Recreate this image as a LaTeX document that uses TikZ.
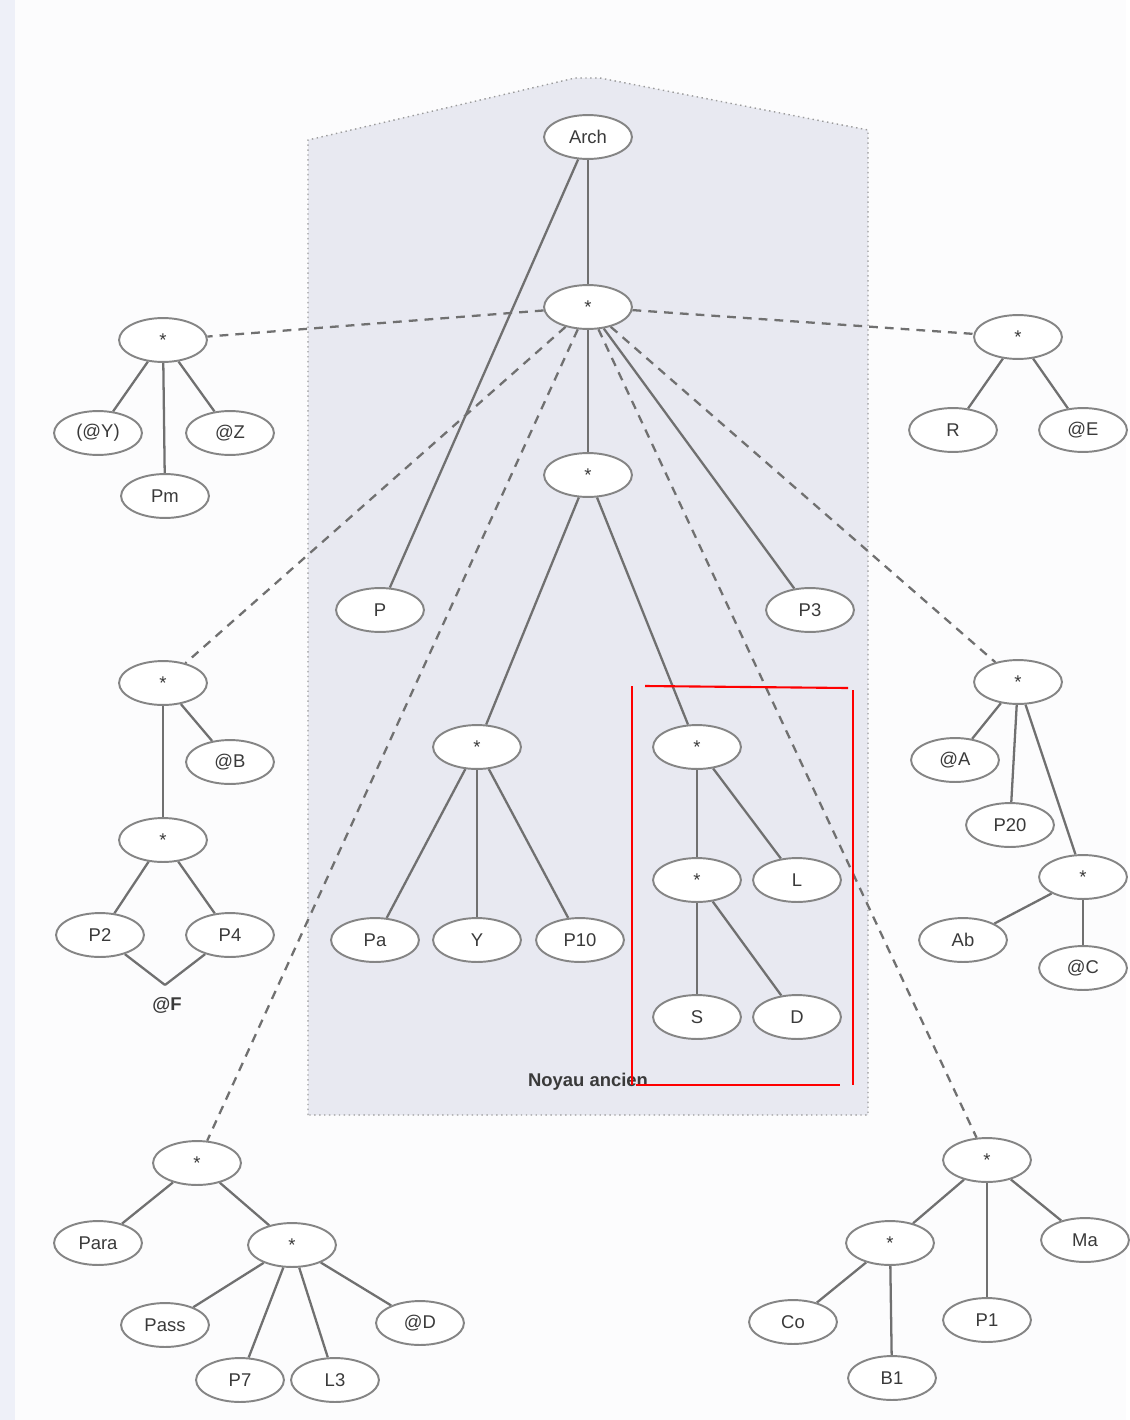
\documentclass[tikz,border=0pt]{standalone}
\usepackage{fontspec}
\setmainfont{Liberation Sans}
\usetikzlibrary{shapes.geometric}
\definecolor{edgec}{HTML}{707070}
\definecolor{txtc}{HTML}{3A3A3A}
\definecolor{corefill}{HTML}{E8E9F1}
\definecolor{pagec}{HTML}{FCFCFD}
\definecolor{stripc}{HTML}{EEF0F8}
\pgfdeclarelayer{back}
\pgfdeclarelayer{edgelayer}
\pgfsetlayers{back,edgelayer,main}
\tikzset{
  nd/.style={ellipse, draw=edgec!85, line width=1.1pt, fill=white, minimum width=50pt, minimum height=25pt, inner sep=0pt, text=txtc, font=\fontsize{10.5}{12}\selectfont},
  plain/.style={text=txtc, inner sep=1pt, font=\bfseries\fontsize{10.5}{12}\selectfont},
  link/.style={draw=edgec, line width=1.3pt},
  dlink/.style={draw=edgec, line width=1.3pt, dash pattern=on 5pt off 4pt},
  redline/.style={draw=red, line width=1.2pt},
}
\begin{document}
\begin{tikzpicture}[x=0.02cm,y=-0.02cm]
\begin{pgfonlayer}{back}
\useasboundingbox (0,0) rectangle (1126,1420);
\fill[pagec] (0,0) rectangle (1126,1420);
\fill[stripc] (0,0) rectangle (15,1420);
\draw[fill=corefill, draw=edgec!70, line width=0.8pt, dotted]
  (308,1115) -- (308,140) -- (575,78) -- (600,78) -- (868,130) -- (868,1115) -- cycle;
\end{pgfonlayer}
\node[plain] (noyau) at (588,1082) {Noyau ancien};

% nodes
\node[nd] (arch) at (588,137) {Arch};
\node[nd] (r) at (588,307) {*};
\node[nd] (m) at (588,475) {*};
\node[nd] (P) at (380,610) {P};
\node[nd] (P3) at (810,610) {P3};
\node[nd] (c1) at (477,747) {*};
\node[nd] (Pa) at (375,940) {Pa};
\node[nd] (Y) at (477,940) {Y};
\node[nd] (P10) at (580,940) {P10};
\node[nd] (c2) at (697,747) {*};
\node[nd] (c3) at (697,880) {*};
\node[nd] (L) at (797,880) {L};
\node[nd] (S) at (697,1017) {S};
\node[nd] (D) at (797,1017) {D};

\node[nd] (g1) at (163,340) {*};
\node[nd] (Y1) at (98,433) {(@Y)};
\node[nd] (Z) at (230,433) {@Z};
\node[nd] (Pm) at (165,496) {Pm};

\node[nd] (g2) at (1018,337) {*};
\node[nd] (R) at (953,430) {R};
\node[nd] (E) at (1083,430) {@E};

\node[nd] (g3) at (163,683) {*};
\node[nd] (B) at (230,762) {@B};
\node[nd] (g3b) at (163,840) {*};
\node[nd] (P2) at (100,935) {P2};
\node[nd] (P4) at (230,935) {P4};
\coordinate (Fpt) at (165,985);
\node[plain] (F) at (167,1005) {@F};

\node[nd] (g4) at (1018,682) {*};
\node[nd] (A) at (955,760) {@A};
\node[nd] (P20) at (1010,825) {P20};
\node[nd] (g4b) at (1083,877) {*};
\node[nd] (Ab) at (963,940) {Ab};
\node[nd] (C) at (1083,968) {@C};

\node[nd] (g5) at (197,1163) {*};
\node[nd] (Para) at (98,1243) {Para};
\node[nd] (g5b) at (292,1245) {*};
\node[nd] (Pass) at (165,1325) {Pass};
\node[nd] (P7) at (240,1380) {P7};
\node[nd] (L3) at (335,1380) {L3};
\node[nd] (Dd) at (420,1323) {@D};

\node[nd] (g6) at (987,1160) {*};
\node[nd] (g6b) at (890,1243) {*};
\node[nd] (Ma) at (1085,1240) {Ma};
\node[nd] (Co) at (793,1322) {Co};
\node[nd] (P1) at (987,1320) {P1};
\node[nd] (B1) at (892,1378) {B1};

\begin{pgfonlayer}{edgelayer}
% core tree
\draw[link] (arch) -- (r);
\draw[link] (arch) -- (P);
\draw[link] (r) -- (m);
\draw[link] (r) -- (P3);
\draw[link] (m) -- (c1);
\draw[link] (m) -- (c2);
\draw[link] (c1) -- (Pa);
\draw[link] (c1) -- (Y);
\draw[link] (c1) -- (P10);
\draw[link] (c2) -- (c3);
\draw[link] (c2) -- (L);
\draw[link] (c3) -- (S);
\draw[link] (c3) -- (D);
% dashed
\draw[dlink] (r) -- (g1);
\draw[dlink] (r) -- (g2);
\draw[dlink] (r) -- (g3);
\draw[dlink] (r) -- (g4);
\draw[dlink] (r) -- (g5);
\draw[dlink] (r) -- (g6);
% groups
\draw[link] (g1) -- (Y1);
\draw[link] (g1) -- (Pm);
\draw[link] (g1) -- (Z);
\draw[link] (g2) -- (R);
\draw[link] (g2) -- (E);
\draw[link] (g3) -- (B);
\draw[link] (g3) -- (g3b);
\draw[link] (g3b) -- (P2);
\draw[link] (g3b) -- (P4);
\draw[link] (P2) -- (Fpt);
\draw[link] (P4) -- (Fpt);
\draw[link] (g4) -- (A);
\draw[link] (g4) -- (P20);
\draw[link] (g4) -- (g4b);
\draw[link] (g4b) -- (Ab);
\draw[link] (g4b) -- (C);
\draw[link] (g5) -- (Para);
\draw[link] (g5) -- (g5b);
\draw[link] (g5b) -- (Pass);
\draw[link] (g5b) -- (P7);
\draw[link] (g5b) -- (L3);
\draw[link] (g5b) -- (Dd);
\draw[link] (g6) -- (g6b);
\draw[link] (g6) -- (P1);
\draw[link] (g6) -- (Ma);
\draw[link] (g6b) -- (Co);
\draw[link] (g6b) -- (B1);
\end{pgfonlayer}

% red annotation frame
\coordinate (rA) at (632,686);
\coordinate (rB) at (632,1085);
\coordinate (rC) at (645,686);
\coordinate (rD) at (848,688);
\coordinate (rE) at (853,690);
\coordinate (rF) at (853,1085);
\coordinate (rG) at (636,1085);
\coordinate (rH) at (840,1085);
\draw[redline] (rA) -- (rB);
\draw[redline] (rC) -- (rD);
\draw[redline] (rE) -- (rF);
\draw[redline] (rG) -- (rH);
\end{tikzpicture}
\end{document}
